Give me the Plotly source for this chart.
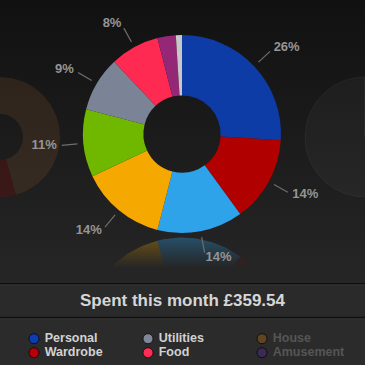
import numpy as np
import plotly.graph_objects as go

# ---------------- data ----------------
categories = ["Personal", "Wardrobe", "Vacation", "Eating Out", "Groceries",
              "Utilities", "Food", "Misc", "Other"]
amounts = [93.48, 50.34, 50.34, 50.34, 39.55, 32.36, 28.76, 10.79, 3.58]
slice_colors = ["#0d3ca6", "#b00000", "#2ea3ea", "#f5a800", "#70b800",
                "#7b8397", "#ff2a52", "#952777", "#c8c8c8"]

prev_categories = ["House", "Wardrobe", "Amusement"]
prev_amounts = [160.0, 45.0, 145.0]
prev_colors = ["#8a5a2b", "#b00000", "#4a3370"]

next_categories = ["No data"]
next_amounts = [1.0]

legend_labels = ["Personal", "Wardrobe", "Vacation",
                 "Utilities", "Food", "Misc",
                 "House", "Amusement", "Presents"]
legend_colors = ["#0d3cb0", "#b5000c", "#5ac8fa",
                 "#7e8698", "#ff2d55", "#c0389c",
                 "#5e4523", "#3b2a55", "#444444"]
legend_active = [True, True, True, True, True, True, False, False, False]

title_prefix = "Spent this month £"

# ---------------- geometry / style ----------------
W = H = 365
CX, CY, R, HOLE = 182, 134, 99, 0.39
YM = 235.3          # reflection mirror line
RR = 1.3            # polar range for label overlay
SIDE_R, SIDE_HOLE, SIDE_CY = 60, 23, 137

total = sum(amounts)
starts = 360 * (np.cumsum(amounts) - np.array(amounts)) / total
ends = 360 * np.cumsum(amounts) / total
mids = (starts + ends) / 2
pcts = [a / total * 100 for a in amounts]


def ring_wedge(cx, cy, r_out, r_in, a0, a1):
    n = max(8, int(abs(a1 - a0) / 2) + 2)
    t = np.radians(np.linspace(a0, a1, n))
    xo = cx + r_out * np.sin(t)
    yo = cy - r_out * np.cos(t)
    xi = cx + r_in * np.sin(t[::-1])
    yi = cy - r_in * np.cos(t[::-1])
    x = np.concatenate([xo, xi, xo[:1]])
    y = np.concatenate([yo, yi, yo[:1]])
    return x, y


def rgba(hexc, a):
    h = hexc.lstrip("#")
    r, g, b = int(h[0:2], 16), int(h[2:4], 16), int(h[4:6], 16)
    return f"rgba({r},{g},{b},{a})"


fig = go.Figure()

# background gradient
fig.add_trace(go.Scatter(
    x=[0, W, W, 0, 0], y=[0, 0, 283, 283, 0], mode="lines", line=dict(width=0),
    fill="toself",
    fillgradient=dict(type="vertical", colorscale=[[0, "#111111"], [1, "#262626"]],
                      start=0, stop=283),
    hoverinfo="skip", showlegend=False))

# left (previous month) faded donut
ptot = sum(prev_amounts)
pcum = np.cumsum(prev_amounts)
for i, v in enumerate(prev_amounts):
    a0 = 360 * (pcum[i] - v) / ptot
    a1 = 360 * pcum[i] / ptot
    x, y = ring_wedge(0, SIDE_CY, SIDE_R, SIDE_HOLE, a0, a1)
    fig.add_trace(go.Scatter(x=x, y=y, mode="lines", line=dict(width=0), fill="toself",
                             fillcolor=rgba(prev_colors[i], 0.2),
                             hoverinfo="skip", showlegend=False))

# right (next month) faded disc
ntot = sum(next_amounts)
ncum = np.cumsum(next_amounts)
for i, v in enumerate(next_amounts):
    a0 = 360 * (ncum[i] - v) / ntot
    a1 = 360 * ncum[i] / ntot
    x, y = ring_wedge(W, SIDE_CY, SIDE_R, 0, a0, a1)
    fig.add_trace(go.Scatter(x=x, y=y, mode="lines",
                             line=dict(width=1, color="rgba(255,255,255,0.05)"),
                             fill="toself", fillcolor="rgba(255,255,255,0.03)",
                             hoverinfo="skip", showlegend=False))

# reflection of the main donut
for i in range(len(amounts)):
    x, y = ring_wedge(CX, CY, R, R * HOLE, starts[i], ends[i])
    y = 2 * YM - y
    fig.add_trace(go.Scatter(
        x=x, y=y, mode="lines", line=dict(width=0), fill="toself",
        fillgradient=dict(type="vertical",
                          colorscale=[[0, rgba(slice_colors[i], 0)],
                                      [1, rgba(slice_colors[i], 0.35)]],
                          start=268, stop=237),
        hoverinfo="skip", showlegend=False))

# legend
lx = [34, 34, 34, 148, 148, 148, 262, 262, 262]
ly = [338.7, 352.7, 366.7] * 3
fig.add_trace(go.Scatter(
    x=lx, y=ly, mode="markers+text",
    text=["\u00a0" + t for t in legend_labels],
    textposition="middle right",
    textfont=dict(family="Liberation Sans", size=12.5, weight="bold",
                  color=["#d2d2d2" if a else "#555555" for a in legend_active]),
    marker=dict(size=10, color=legend_colors,
                line=dict(width=1, color="rgba(0,0,0,0.7)")),
    cliponaxis=False, hoverinfo="skip", showlegend=False))

# main donut
fig.add_trace(go.Pie(
    labels=categories, values=amounts, sort=False, direction="clockwise", rotation=0,
    hole=HOLE, textinfo="none", hoverinfo="skip", showlegend=False,
    marker=dict(colors=slice_colors, line=dict(width=0)),
    domain=dict(x=[(CX - R) / W, (CX + R) / W], y=[1 - (CY + R) / H, 1 - (CY - R) / H])))

# leader lines and percentage labels
show = [p >= 5 for p in pcts]
lr, lt = [], []
tr, tt, ttxt, tpos = [], [], [], []
for i in range(len(amounts)):
    if not show[i]:
        continue
    lr += [1.06, 1.22, None]
    lt += [mids[i], mids[i], None]
    tr.append(1.27)
    tt.append(mids[i])
    ttxt.append(f"{pcts[i]:.0f}%")
    tpos.append("middle right" if np.sin(np.radians(mids[i])) >= 0 else "middle left")

fig.add_trace(go.Scatterpolar(r=lr, theta=lt, mode="lines",
                              line=dict(color="#6e6e6e", width=1.2),
                              hoverinfo="skip", showlegend=False, subplot="polar"))
fig.add_trace(go.Scatterpolar(r=tr, theta=tt, mode="text", text=ttxt, textposition=tpos,
                              textfont=dict(family="Liberation Sans", size=13,
                                            weight="bold", color="#959595"),
                              cliponaxis=False, hoverinfo="skip", showlegend=False,
                              subplot="polar"))

# title band & separators
shapes = [
    dict(type="rect", xref="x", yref="y", x0=0, x1=W, y0=283, y1=318,
         fillcolor="#2a2a2a", line=dict(width=0), layer="below"),
    dict(type="rect", xref="x", yref="y", x0=0, x1=W, y0=318, y1=H,
         fillcolor="#2b2b2b", line=dict(width=0), layer="below"),
    dict(type="line", xref="x", yref="y", x0=0, x1=W, y0=283.5, y1=283.5,
         line=dict(color="#0e0e0e", width=1.5), layer="below"),
    dict(type="line", xref="x", yref="y", x0=0, x1=W, y0=285, y1=285,
         line=dict(color="#333333", width=1), layer="below"),
    dict(type="line", xref="x", yref="y", x0=0, x1=W, y0=317.5, y1=317.5,
         line=dict(color="#111111", width=1.5), layer="below"),
    dict(type="line", xref="x", yref="y", x0=0, x1=W, y0=319, y1=319,
         line=dict(color="#333333", width=1), layer="below"),
]

fig.update_layout(
    width=W, height=H, margin=dict(l=0, r=0, t=0, b=0),
    paper_bgcolor="#1c1c1c", plot_bgcolor="rgba(0,0,0,0)",
    xaxis=dict(range=[0, W], visible=False, fixedrange=True),
    yaxis=dict(range=[H, 0], visible=False, fixedrange=True),
    polar=dict(
        domain=dict(x=[(CX - R * RR) / W, (CX + R * RR) / W],
                    y=[1 - (CY + R * RR) / H, 1 - (CY - R * RR) / H]),
        bgcolor="rgba(0,0,0,0)",
        radialaxis=dict(visible=False, range=[0, RR]),
        angularaxis=dict(visible=False, rotation=90, direction="clockwise"),
    ),
    shapes=shapes,
    annotations=[dict(
        x=182.5, y=300.5, xref="x", yref="y", showarrow=False,
        text=f"{title_prefix}{total:.2f}",
        font=dict(family="Liberation Sans", size=17, weight="bold", color="#d6d6d6"))],
)

fig.write_html("out.html", config={"displayModeBar": False})
